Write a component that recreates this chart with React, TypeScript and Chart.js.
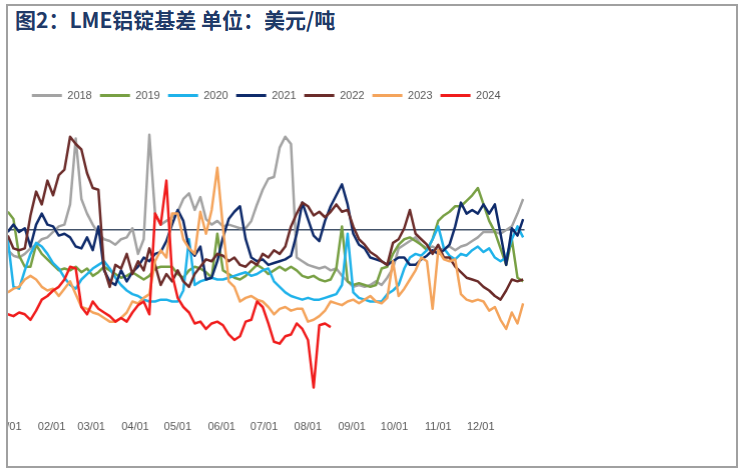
import React, { useEffect, useRef } from 'react';
import { Chart, registerables } from 'chart.js';

Chart.register(...registerables);

// Day of year (0 = Jan 1) for every sample point
const days = [0, 4, 8, 12, 16, 20, 24, 28, 32, 36, 40, 44, 48, 52, 56, 60, 64, 68, 72, 76, 80, 84, 88, 92, 96, 100, 104, 108, 112, 116, 120, 124, 128, 132, 136, 140, 144, 148, 152, 156, 160, 164, 168, 172, 176, 180, 184, 188, 192, 196, 200, 204, 208, 212, 216, 220, 224, 228, 232, 236, 240, 244, 248, 252, 256, 260, 264, 268, 272, 276, 280, 284, 288, 292, 296, 300, 304, 308, 312, 316, 320, 324, 328, 332, 336, 340, 344, 348, 352, 356, 360, 364];

const monthStartDays = [0, 31, 59, 90, 120, 151, 181, 212, 243, 273, 304, 334];
const monthLabels = ['01/01', '02/01', '03/01', '04/01', '05/01', '06/01', '07/01', '08/01', '09/01', '10/01', '11/01', '12/01'];

const seriesNames = ['2018', '2019', '2020', '2021', '2022', '2023', '2024'];
const seriesColors = ['#a3a3a3', '#78a044', '#1fb2ea', '#0f2b6b', '#6b2c2a', '#f4a45c', '#f01c1c'];

const basis2018 = [
  -11, -14, -15, -13, -10, -8, -5, -4, -1, 2,
  3, 14, 50, 17, 9, 3, -2, -5, -6, -8,
  -5, -4, 1, -13, -5, 52, 9, 3, 5, 7,
  10, 17, 20, 11, 18, 6, 3, 5, 2, 3,
  2, 1, 1, 5, 14, 22, 28, 29, 45, 51,
  47, -15, -17, -19, -20, -21, -20, -22, -21, -25,
  -28, -31, -30, -31, -30, -28, -30, -26, -21, -10,
  -8, -6, -4, -8, -10, -9, -11, -10, -9, -11,
  -9, -8, -6, -4, -1, -1, -1, -2, 0, 2,
  9, 17,
];
const basis2019 = [
  10, 6, -14, -20, -20, -8, -13, -16, -19, -22,
  -21, -22, -20, -23, -21, -25, -23, -20, -22, -24,
  -26, -25, -23, -25, -27, -25, -21, -20, -20, -20,
  -24, -26, -22, -20, -21, -23, -26, -2, -22, -24,
  -26, -27, -25, -22, -19, -21, -24, -22, -20, -22,
  -20, -22, -25, -26, -25, -27, -28, -27, -21, 2,
  -28, -30, -29, -30, -31, -30, -21, -20, -13, -8,
  -5, -4, -6, -8, -11, -5, 5, 8, 10, 13,
  13, 16, 19, 23, 14, 5, -1, -10, -19, -5,
  -26, -28,
];
const basis2020 = [
  -5, -31, -32, -22, -13, -7, -9, -13, -18, -21,
  -26, -30, -32, -27, -24, -21, -19, -17, -21, -26,
  -30, -33, -35, -36, -38, -39, -39, -38, -38, -39,
  -39, -33, -5, -30, -28, -27, -26, -27, -27, -26,
  -25, -24, -23, -25, -24, -22, -21, -28, -31, -34,
  -36, -37, -38, -37, -38, -38, -37, -36, -35, -30,
  -2, -34, -37, -38, -39, -39, -39, -35, -33, -30,
  -21, -15, -13, -14, -11, -5, 2, -10, -14, -16,
  -13, -14, -11, -9, -12, -10, -15, -17, -15, -5,
  2, -4,
];
const basis2021 = [
  -1, 3, -1, 1, -9, 3, 9, 3, 2, -3,
  -2, -4, -9, -10, -4, -11, 2, -22, -28, -30,
  -22, -28, -23, -20, -15, -17, -13, -12, -6, 3,
  11, 5, -10, -14, -9, -27, -26, -17, -4, 6,
  10, 13, -5, -15, -17, -16, -19, -18, -17, -16,
  -14, -2, 15, 6, -3, -6, 5, 13, 19, 25,
  14, -2, -8, -10, -15, -16, -17, -19, -17, -15,
  -15, -19, -19, -16, -14, -11, -13, -11, -8, 2,
  15, 9, 11, 9, 14, 9, 14, -2, -19, 1,
  -3, 6,
];
const basis2022 = [
  -3, -10, -11, -10, 8, 21, 14, 27, 19, 30,
  33, 51, 47, 44, 31, 23, 22, -21, -31, -19,
  -21, -13, -24, -17, -22, -10, -19, -30, -24, -28,
  -22, -28, -31, -24, -20, -16, -17, -13, -14, -17,
  -15, -19, -20, -17, -19, -13, -15, -11, -13, -9,
  2, 9, 15, 13, 8, 10, 7, 10, 14, 10,
  11, 2, -5, -8, -12, -14, -17, -19, -7, -5,
  1, 11, -2, -5, -8, -13, -8, -15, -15, -20,
  -23, -26, -27, -28, -31, -33, -36, -38, -33, -27,
  -28, -27,
];
const basis2023 = [
  -34, -32, -31, -27, -25, -27, -31, -33, -32, -36,
  -32, -28, -35, -42, -43, -45, -46, -48, -50, -50,
  -48, -45, -39, -40, -37, -35, -17, -11, -15, 9,
  9, -5, -10, -13, 10, -2, 11, 34, 1, -28,
  -31, -39, -37, -36, -38, -39, -42, -46, -43, -42,
  -44, -43, -43, -50, -49, -47, -44, -39, -40, -41,
  -39, -38, -40, -38, -36, -39, -40, -37, -17, -36,
  -32, -27, -22, -15, -17, -43, -11, -16, -17, -16,
  -35, -38, -39, -38, -39, -44, -42, -49, -54, -45,
  -51, -40,
];
const basis2024 = [
  -46, -47, -45, -46, -49, -44, -38, -36, -33, -31,
  -27, -20, -21, -42, -46, -39, -43, -45, -47, -50,
  -48, -50, -45, -41, -39, -46, 9, 3, 27, -24,
  -37, -42, -45, -51, -50, -54, -51, -50, -52, -57,
  -60, -58, -50, -49, -39, -42, -51, -61, -62, -58,
  -57, -51, -54, -60, -86, -52, -51, -53,
];

const seriesValues = [basis2018, basis2019, basis2020, basis2021, basis2022, basis2023, basis2024];

const yMin = -100;
const yMax = 60;
const yStep = 20;

// target plot rectangle in page pixels
const PLOT_LEFT = 7.5;
const PLOT_TOP = 120;
const PLOT_W = 517;
const PLOT_H = 293;
const FRAME_INNER_X = 8;
const FRAME_INNER_Y = 6;

export default function App() {
  const wrapRef = useRef<HTMLDivElement | null>(null);
  const canvasRef = useRef<HTMLCanvasElement | null>(null);

  useEffect(() => {
    const canvas = canvasRef.current;
    const wrap = wrapRef.current;
    if (!canvas || !wrap) return;

    const datasets = seriesNames.map((name, i) => ({
      label: name,
      data: seriesValues[i].map((v, j) => ({ x: days[j], y: v })),
      borderColor: seriesColors[i],
      backgroundColor: seriesColors[i],
      borderWidth: 2.5,
      pointRadius: 0,
      tension: 0,
      borderJoinStyle: 'round' as const,
      order: seriesNames.length - 1 - i,
    }));

    const chart = new Chart(canvas, {
      type: 'line',
      data: { datasets },
      options: {
        animation: false,
        responsive: true,
        maintainAspectRatio: false,
        devicePixelRatio: 1,
        layout: { padding: 0 },
        plugins: {
          legend: {
            display: true,
            position: 'top',
            fullSize: false,
            align: 'center',
            labels: {
              boxWidth: 30,
              boxHeight: 3,
              padding: 8,
              color: '#595959',
              font: { size: 11, family: 'Liberation Sans, Arial, sans-serif' },
              generateLabels: (c: any) =>
                Chart.defaults.plugins.legend.labels
                  .generateLabels(c)
                  .map((l: any) => ({ ...l, fillStyle: l.strokeStyle, lineWidth: 0 }))
                  .sort((a: any, b: any) => a.datasetIndex - b.datasetIndex),
            },
          },
          title: {
            display: true,
            text: ' ',
            position: 'top',
            fullSize: false,
            weight: 500,
            font: { size: 1 },
            padding: { top: 0, bottom: 8 },
          },
          tooltip: { enabled: false },
        },
        scales: {
          x: {
            type: 'linear',
            min: 0,
            max: 365,
            afterBuildTicks: (scale: any) => {
              scale.ticks = monthStartDays.map((v) => ({ value: v }));
            },
            ticks: {
              autoSkip: false,
              maxRotation: 0,
              minRotation: 0,
              padding: 7,
              color: '#595959',
              font: { size: 11, family: 'Liberation Sans, Arial, sans-serif' },
              callback: (value: any) => {
                const k = monthStartDays.indexOf(Number(value));
                return k >= 0 ? monthLabels[k] : '';
              },
            },
            grid: { display: false, drawTicks: false },
            border: { display: false },
          },
          y: {
            type: 'linear',
            min: yMin,
            max: yMax,
            ticks: { display: false, stepSize: yStep },
            grid: {
              drawTicks: false,
              color: (ctx: any) => (ctx.tick && ctx.tick.value === 0 ? '#44546a' : 'rgba(0,0,0,0)'),
              lineWidth: (ctx: any) => (ctx.tick && ctx.tick.value === 0 ? 1.6 : 0),
            },
            border: { display: false },
          },
        },
      },
    });

    const ca = chart.chartArea;
    const w = wrap.clientWidth + (PLOT_W - (ca.right - ca.left));
    const h = wrap.clientHeight + (PLOT_H - (ca.bottom - ca.top));
    wrap.style.width = w + 'px';
    wrap.style.height = h + 'px';
    chart.resize();
    const ca2 = chart.chartArea;
    wrap.style.left = PLOT_LEFT - FRAME_INNER_X - ca2.left + 'px';
    wrap.style.top = PLOT_TOP - FRAME_INNER_Y - ca2.top + 'px';

    return () => chart.destroy();
  }, []);

  return (
    <div style={{ position: 'absolute', left: 0, top: 0, width: 746, height: 469, background: '#fff' }}>
      <div
        style={{
          position: 'absolute',
          left: 6,
          top: 4,
          width: 732,
          height: 464,
          boxSizing: 'border-box',
          border: '2px solid #a0a0a0',
          overflow: 'hidden',
          background: '#fff',
        }}
      >
        <div ref={wrapRef} style={{ position: 'absolute', left: 0, top: 0, width: 600, height: 380 }}>
          <canvas ref={canvasRef} />
        </div>
      </div>
      <div
        style={{
          position: 'absolute',
          left: 15,
          top: 8,
          fontFamily: '"Noto Sans CJK SC", sans-serif',
          fontWeight: 700,
          fontSize: 21,
          lineHeight: '22px',
          color: '#1f3a68',
          whiteSpace: 'nowrap',
        }}
      >
        图2：LME铝锭基差 单位：美元/吨
      </div>
    </div>
  );
}
